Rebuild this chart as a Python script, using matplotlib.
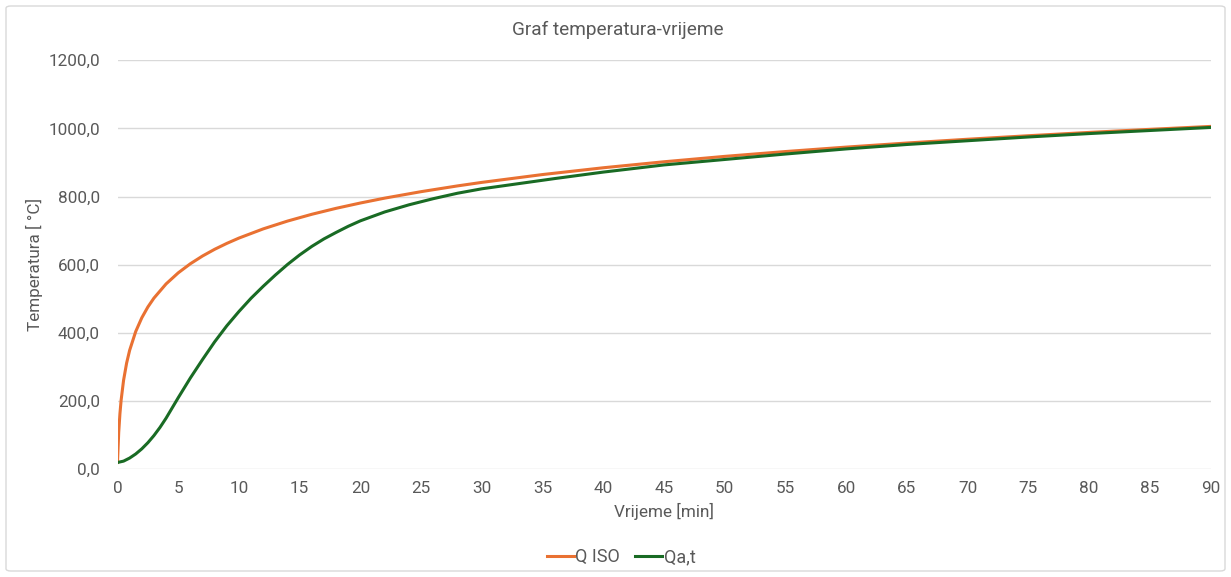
import matplotlib
matplotlib.use("Agg")
import matplotlib.pyplot as plt
from matplotlib.patches import FancyBboxPatch
from matplotlib.ticker import FuncFormatter, MultipleLocator

plt.rcParams['font.family'] = ['Roboto', 'DejaVu Sans']

# ---- data ----
iso_t = [0, 0.1, 0.2, 0.3, 0.5, 0.75, 1, 1.5, 2, 2.5, 3, 4, 5, 6, 7, 8, 9, 10,
         12, 14, 16, 18, 20, 22, 25, 28, 30, 35, 40, 45, 50, 55, 60, 65, 70,
         75, 80, 85, 90]
iso_T = [20.0, 108.1, 163.2, 203.4, 261.2, 311.6, 349.2, 404.3, 444.5, 476.2,
         502.3, 543.9, 576.4, 603.1, 625.8, 645.5, 662.8, 678.4, 705.4, 728.3,
         748.2, 765.7, 781.3, 795.6, 814.6, 831.5, 841.8, 864.8, 884.7, 902.3,
         918.1, 932.3, 945.3, 957.3, 968.4, 978.7, 988.4, 997.4, 1006.0]

steel_t = [0, 0.5, 1, 1.5, 2, 2.5, 3, 3.5, 4, 4.5, 5, 6, 7, 8, 9, 10, 11, 12,
           13, 14, 15, 16, 17, 18, 19, 20, 22, 24, 26, 28, 30, 33, 36, 40, 45,
           50, 55, 60, 65, 70, 75, 80, 85, 90]
steel_T = [20, 24, 33, 45, 60, 78, 99, 123, 150, 180, 210, 268, 322, 374, 421,
           463, 502, 537, 570, 601, 629, 654, 676, 695, 713, 729, 755, 776, 794,
           810, 823, 838, 853, 872, 893, 909, 925, 940, 953, 964, 975, 985, 994,
           1003]

series_names = ["Q ISO", "Qa,t"]
series_colors = ["#E97132", "#196B24"]

title = "Graf temperatura-vrijeme"
xlabel = "Vrijeme [min]"
ylabel = "Temperatura [ °C]"

W, H = 1231, 577
fig = plt.figure(figsize=(W / 100, H / 100), dpi=100)
ax = fig.add_axes([117.5 / W, 1 - 469.3 / H, (1210.5 - 117.5) / W, (469.3 - 60.3) / H])

text_col = "#595959"
grid_col = "#D9D9D9"

ax.plot(iso_t, iso_T, color=series_colors[0], lw=2.2, label=series_names[0],
        solid_joinstyle="round", zorder=3)
ax.plot(steel_t, steel_T, color=series_colors[1], lw=2.2, label=series_names[1],
        solid_joinstyle="round", zorder=4)

ax.set_xlim(0, 90)
ax.set_ylim(0, 1200)
ax.xaxis.set_major_locator(MultipleLocator(5))
ax.yaxis.set_major_locator(MultipleLocator(200))
ax.yaxis.set_major_formatter(FuncFormatter(lambda v, p: f"{v:.1f}".replace(".", ",")))
ax.grid(axis="y", color=grid_col, lw=1.0)
ax.set_axisbelow(True)
for s in ax.spines.values():
    s.set_visible(False)
ax.tick_params(axis="both", length=0, labelsize=12.3, labelcolor=text_col)
ax.tick_params(axis="x", pad=8.5)
ax.tick_params(axis="y", pad=12.6)

ax.set_xlabel(xlabel, fontsize=12.3, color=text_col, labelpad=5)
ax.set_ylabel(ylabel, fontsize=12.3, color=text_col, labelpad=4)
fig.text(618 / W, 1 - 30 / H, title, ha="center", va="center", fontsize=13.7,
         color=text_col)

leg = fig.legend(loc="center", bbox_to_anchor=(621 / W, 1 - 557 / H), ncol=2,
                 frameon=False, fontsize=13, handlelength=1.5, handletextpad=0.1,
                 columnspacing=0.8, labelcolor=text_col)

border = FancyBboxPatch((6 / W, 6 / H), (W - 12) / W, (H - 12) / H,
                        boxstyle="round,pad=0,rounding_size=0.004",
                        transform=fig.transFigure, fc="none", ec="#D9D9D9", lw=1.0)
fig.patches.append(border)

fig.savefig("out.png", dpi=100, facecolor="white")
